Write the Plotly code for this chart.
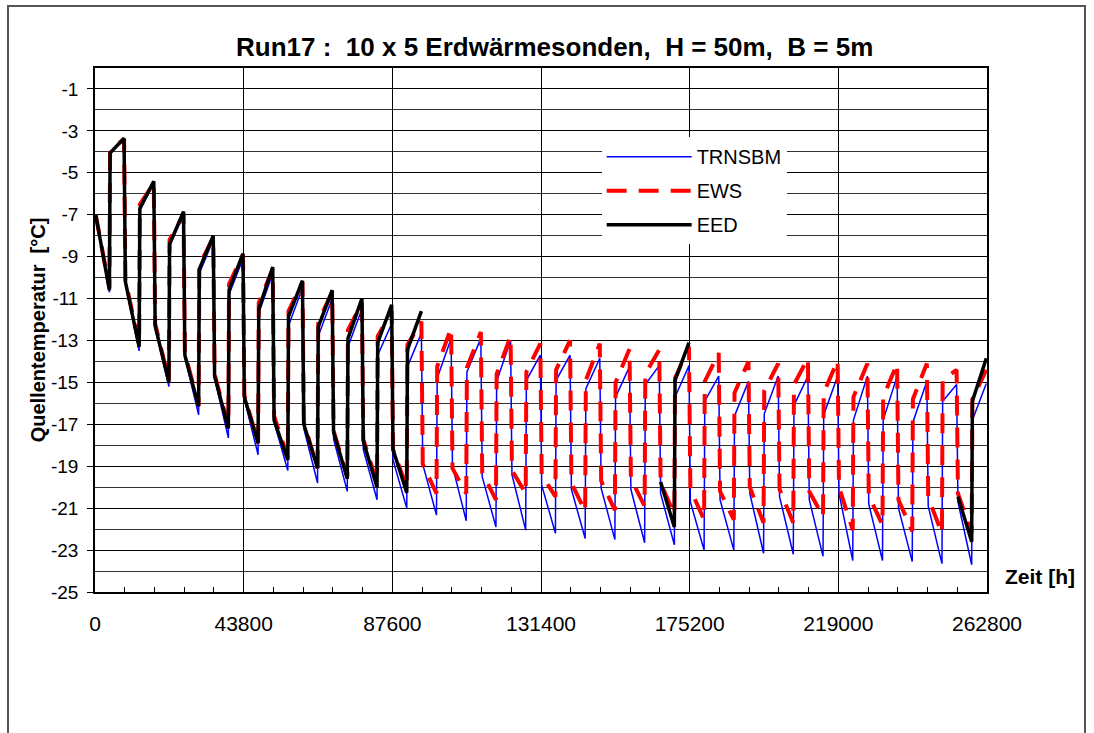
import plotly.graph_objects as go

YEAR_H = 8760
# hours inside each year where the four characteristic temperatures are reported:
# start of heating period, end of heating period, start of recovery, end of recovery
SAMPLE_H = [200, 4250, 4450, 8560]

X_TICKS = [0, 43800, 87600, 131400, 175200, 219000, 262800]
Y_TICKS = [-1, -3, -5, -7, -9, -11, -13, -15, -17, -19, -21, -23, -25]

TRN_YEARS = list(range(1, 31))
TRN_W0 = [-7.0, -10.3, -12.4, -13.8, -14.8, -15.8, -16.9, -17.2, -17.7, -18.2,
          -18.7, -18.9, -19.0, -19.5, -19.4, -19.9, -20.1, -20.05, -20.1, -20.3,
          -20.7, -20.6, -20.3, -20.45, -20.6, -20.3, -20.8, -21.0, -20.9, -20.7]
TRN_WMIN = [-10.7, -13.5, -15.2, -16.55, -17.65, -18.45, -19.2, -19.8, -20.2, -20.6,
            -21.0, -21.33, -21.6, -21.9, -22.05, -22.2, -22.45, -22.5, -22.65, -22.75,
            -23.0, -23.0, -23.15, -23.2, -23.3, -23.5, -23.5, -23.55, -23.65, -23.7]
TRN_S0 = [-4.1, -6.8, -8.5, -9.8, -10.8, -11.7, -12.3, -12.8, -13.3, -13.7,
          -14.25, -14.8, -14.5, -14.95, -14.9, -14.9, -15.3, -15.7, -15.1, -15.7,
          -15.9, -16.6, -16.5, -16.1, -16.55, -16.8, -16.8, -16.9, -15.9, -16.8]
TRN_SPK = [-3.4, -5.5, -7.0, -8.2, -9.1, -9.8, -10.5, -11.0, -11.5, -12.2,
           -12.65, -12.9, -12.9, -13.0, -13.7, -13.7, -13.85, -14.25, -14.2, -14.2,
           -14.7, -14.95, -14.7, -14.7, -14.7, -14.7, -14.7, -14.95, -15.1, -15.05]

EWS_YEARS = list(range(1, 31))
EWS_W0 = [-7.0, -10.1, -12.2, -13.6, -14.6, -15.6, -16.6, -16.9, -17.3, -17.7,
          -18.2, -18.9, -19.1, -19.3, -19.2, -19.4, -19.8, -19.7, -19.6, -19.8,
          -20.1, -20.2, -20.0, -20.1, -20.2, -20.0, -20.4, -20.6, -20.5, -20.3]
EWS_WMIN = [-10.5, -13.2, -14.9, -16.1, -17.1, -17.9, -18.6, -19.1, -19.5, -19.8,
            -20.0, -20.3, -20.3, -20.6, -20.3, -20.45, -21.15, -21.1, -20.9, -21.3,
            -21.55, -21.55, -21.7, -21.7, -21.4, -22.05, -21.8, -22.1, -22.2, -22.2]
EWS_S0 = [-3.9, -6.5, -8.2, -9.4, -10.3, -11.2, -11.6, -12.1, -12.5, -12.8,
          -13.2, -14.25, -14.3, -14.6, -14.5, -14.4, -14.9, -15.0, -14.6, -14.8,
          -14.95, -15.5, -15.4, -15.1, -15.5, -15.7, -15.7, -15.8, -14.9, -15.8]
EWS_SPK = [-3.4, -5.5, -7.0, -8.1, -8.9, -9.6, -10.2, -10.7, -11.2, -11.6,
           -12.1, -12.4, -12.6, -12.8, -13.15, -13.0, -13.15, -13.4, -13.45, -13.3,
           -13.6, -14.0, -14.1, -13.85, -13.95, -14.1, -14.1, -14.1, -14.4, -14.4]

# EED was only evaluated for the first 11 years and for years 20 and 30
EED_YEARS = [1, 2, 3, 4, 5, 6, 7, 8, 9, 10, 11, 20, 30]
EED_W0 = [-7.0, -10.2, -12.3, -13.7, -14.7, -15.7, -16.8, -17.0, -17.35, -17.8, -18.2, -19.75, -20.45]
EED_WMIN = [-10.6, -13.3, -15.0, -16.15, -17.2, -17.9, -18.7, -19.1, -19.6, -20.0, -20.26, -21.9, -22.6]
EED_S0 = [-4.05, -6.7, -8.4, -9.6, -10.6, -11.5, -11.85, -12.35, -12.9, -13.1, -13.45, -14.9, -15.9]
EED_SPK = [-3.35, -5.4, -6.85, -8.0, -8.85, -9.5, -10.15, -10.6, -11.0, -11.3, -11.6, -13.1, -13.85]

FONT = "Liberation Sans, Arial, sans-serif"


def build_series(years, w0, wmin, s0, spk):
    """Turn the per-year characteristic values into an hourly time series"""
    x, y = [], []
    prev = None
    for i, yr in enumerate(years):
        if prev is not None and yr != prev + 1:
            x.append(None)
            y.append(None)
        base = (yr - 1) * YEAR_H
        for h, v in zip(SAMPLE_H, (w0[i], wmin[i], s0[i], spk[i])):
            x.append(base + h)
            y.append(v)
        prev = yr
    return x, y


fig = go.Figure()

x, y = build_series(TRN_YEARS, TRN_W0, TRN_WMIN, TRN_S0, TRN_SPK)
fig.add_trace(go.Scatter(x=x, y=y, mode='lines', name='TRNSBM', legendgroup='a',
                         line=dict(color='#0000FF', width=1.5)))

x, y = build_series(EWS_YEARS, EWS_W0, EWS_WMIN, EWS_S0, EWS_SPK)
fig.add_trace(go.Scatter(x=x, y=y, mode='lines', name='EWS', legendgroup='b',
                         line=dict(color='#FF0000', width=4, dash='20px,12px')))

x, y = build_series(EED_YEARS, EED_W0, EED_WMIN, EED_S0, EED_SPK)
fig.add_trace(go.Scatter(x=x, y=y, mode='lines', name='EED', legendgroup='c',
                         line=dict(color='#000000', width=3.5)))

fig.update_layout(
    width=1094,
    height=733,
    margin=dict(l=95, r=107, t=68, b=141),
    paper_bgcolor='white',
    plot_bgcolor='white',
    font=dict(family=FONT, size=18, color='black'),
    title=dict(text='Run17 :\u00a0 10 x 5 Erdwärmesonden,\u00a0 H = 50m,\u00a0 B = 5m',
               x=0.507, xref='container', xanchor='center',
               y=1 - 47 / 733, yref='container', yanchor='middle',
               font=dict(family=FONT, size=26, weight='bold')),
    showlegend=True,
    legend=dict(x=0.568, y=0.868, xanchor='left', yanchor='top',
                bgcolor='white', borderwidth=0, font=dict(size=20),
                tracegroupgap=5, itemwidth=85),
    xaxis=dict(range=[0, 262800], tickvals=X_TICKS, ticktext=[str(v) for v in X_TICKS],
               tickfont=dict(size=21),
               showgrid=True, gridcolor='black', gridwidth=1,
               showline=True, linecolor='black', linewidth=1.5, mirror=True,
               ticks='inside', ticklen=5, tickcolor='black', ticklabelstandoff=12,
               minor=dict(dtick=8760, tick0=0, ticks='inside', ticklen=5,
                          tickcolor='black', showgrid=False),
               zeroline=False),
    yaxis=dict(range=[-25, 0], tickvals=Y_TICKS, ticktext=[str(v) for v in Y_TICKS],
               tickfont=dict(size=19),
               showgrid=True, gridcolor='black', gridwidth=1,
               showline=True, linecolor='black', linewidth=1.5, mirror=True,
               ticks='outside', ticklen=6, tickcolor='black', ticklabelstandoff=5,
               minor=dict(dtick=1, tick0=0, showgrid=True, gridcolor='#333333', gridwidth=1),
               zeroline=False,
               title=dict(text='Quellentemperatur\u00a0 [°C]', standoff=0,
                          font=dict(size=20, weight='bold'))),
)

fig.add_annotation(text='Zeit [h]', x=1.059, y=0.0305, xref='paper', yref='paper',
                   xanchor='center', yanchor='middle', showarrow=False,
                   font=dict(size=21, weight='bold'))

# outer chart border
fig.add_shape(type='rect', xref='paper', yref='paper',
              x0=(8 - 95) / 892, x1=(1085 - 95) / 892,
              y0=(592 - 745) / 524, y1=(592 - 6) / 524,
              line=dict(color='#555555', width=2))

fig.write_html("out.html", config={'displayModeBar': False},
               post_script="document.body.style.margin='0';")
